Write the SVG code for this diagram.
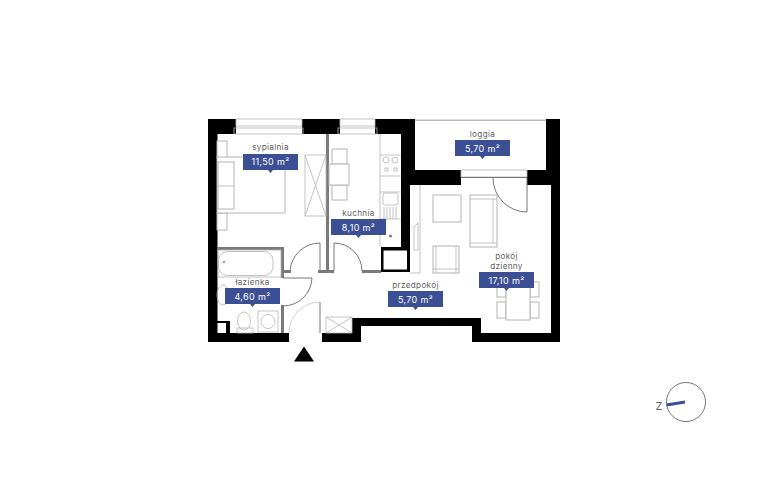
<svg xmlns="http://www.w3.org/2000/svg" width="768" height="480" viewBox="0 0 768 480">
<style>
text{font-family:Inter,"Open Sans","Liberation Sans",sans-serif;text-anchor:middle}
.n{font-size:8.2px;fill:#5f5f5f;letter-spacing:.3px}
.a{font-size:9px;fill:#fff;letter-spacing:.35px}
.l{fill:#3d4f94}
.w{fill:#000}
.g{fill:#7a7a7a}
.f{fill:#fff;stroke:#b4b4b4;stroke-width:1}
.t{fill:none;stroke:#b4b4b4;stroke-width:.8}
.d{fill:none;stroke:#777;stroke-width:1}
.e{fill:none;stroke:#bbb;stroke-width:.7}
</style>
<rect width="768" height="480" fill="#fff"/>
<g id="walls">
<path class="w" d="M208 119H236V134H217.500V333H289V342H208ZM302 119H340V134H302ZM375 119H415V170H461V185H410V272H381V247H401V134H375ZM527 170H546V119H560V342H472V326H361V342H322V333H352V318H481V333H551V185H527ZM217.500 321H230V333H217.500Z"/>
<rect x="383.500" y="250.500" width="23.500" height="19" fill="#fff"/>
<rect x="217.500" y="323" width="8.500" height="10" fill="#fff"/>
<path class="g" d="M326 134H329V271H326ZM217 247H284V250H217ZM281 250H284V278H281ZM281 305H284V333H281ZM284 270H291V273H284ZM318 270H331V273H318ZM331 270H334V273H331ZM362 270H381V273H362Z"/>
<rect x="415" y="119.500" width="131" height="1.500" fill="#bbb"/>
</g>
<g id="windows">
<rect class="t" x="236" y="119" width="66" height="7"/><rect class="t" x="234" y="128" width="69" height="6"/>
<rect class="t" x="340" y="119" width="35" height="7"/><rect class="t" x="338" y="128" width="39" height="6"/>
<rect class="t" x="461" y="170" width="66" height="7"/>
<path class="d" d="M461 177.500H527"/>
</g>
<g id="doors">
<path class="d" d="M283 278H312A29 29 0 0 1 283 306"/>
<path class="d" d="M320 271V243A30 30 0 0 0 290 271"/>
<path class="d" d="M334 271V243A28 28 0 0 1 362 271"/>
<path class="e" d="M320 302A31 31 0 0 0 289 333"/>
<rect x="319" y="302" width="2" height="31" fill="#bbb"/>
<path class="d" d="M527 178V212A34 34 0 0 1 493 178"/>
</g>
<g id="furniture">
<rect class="f" x="217" y="141" width="10" height="17"/><rect class="f" x="217" y="213" width="10" height="17"/>
<rect class="f" x="217" y="157" width="68" height="56"/>
<rect class="f" x="218" y="162" width="16" height="47"/><path class="t" d="M218 186H234"/>
<path class="t" d="M305 155H326V216H305ZM305 155L326 216M326 155L305 216"/>
<rect class="f" x="332" y="149" width="15" height="15"/><rect class="f" x="332" y="185" width="15" height="15"/><rect class="f" x="329" y="164" width="20" height="21"/>
<path class="t" d="M380 134V247M380 155H401M380 176H401M380 192H401M380 219H401"/>
<circle class="t" cx="386" cy="160" r="3"/><circle class="t" cx="395" cy="160" r="3"/><rect class="t" x="385" y="168" width="3" height="3"/><rect class="t" x="394" y="168" width="3" height="3"/>
<rect class="t" x="383" y="193" width="15" height="12" rx="2"/><path class="t" d="M384 207V219M387 207V219M390 207V219M393 207V219M396 207V219"/>
<circle cx="390.500" cy="236" r="1.500" fill="#777"/>
<path class="t" d="M420 185V273H410"/><path class="t" d="M414 250V227L418 223V250Z"/>
<rect class="f" x="433" y="195" width="28" height="27"/>
<rect class="f" x="470" y="195" width="27" height="52"/><path class="t" d="M470 199H497M470 243H497M493 199V243"/>
<rect class="f" x="433" y="246" width="26" height="27"/><path class="t" d="M436 246V273M456 246V273M433 269H459"/>
<rect class="f" x="497" y="282" width="9" height="15"/><rect class="f" x="497" y="302" width="9" height="16"/><rect class="f" x="530" y="282" width="9" height="15"/><rect class="f" x="530" y="302" width="9" height="16"/>
<rect class="f" x="506" y="285" width="24" height="35"/>
<rect class="t" x="218" y="250" width="63" height="27"/>
<rect class="t" x="218.500" y="251.500" width="54.500" height="24" rx="9"/><circle cx="224" cy="262" r="1" fill="#777"/>
<ellipse class="t" cx="223" cy="295" rx="6" ry="10"/>
<ellipse class="t" cx="244" cy="321" rx="6.500" ry="9"/><rect class="t" x="237" y="328" width="16" height="5"/>
<rect class="t" x="258" y="311" width="20" height="21"/><circle class="t" cx="268" cy="321.500" r="7"/>
<path class="t" d="M326 317H352V333H326ZM326 317L352 333M352 317L326 333"/>
</g>
<g id="sypialnia"><text class="n" x="270.500" y="150">sypialnia</text><path class="l" d="M243 154H298V170H273L270.500 173L268 170H243Z"/><text class="a" x="270.500" y="165">11,50 m²</text></g>
<g id="kuchnia"><text class="n" x="358.500" y="216">kuchnia</text><path class="l" d="M331 219H386V235H361L358.500 238L356 235H331Z"/><text class="a" x="358.500" y="230.500">8,10 m²</text></g>
<g id="lazienka"><text class="n" x="252.500" y="285">łazienka</text><path class="l" d="M225 288H280V304H255L252.500 307L250 304H225Z"/><text class="a" x="252.500" y="299.500">4,60 m²</text></g>
<g id="loggia"><text class="n" x="482.500" y="137">loggia</text><path class="l" d="M455 140H510V156H485L482.500 159L480 156H455Z"/><text class="a" x="482.500" y="151.500">5,70 m²</text></g>
<g id="pokoj"><text class="n" x="506.500" y="259">pokój</text><text class="n" x="506.500" y="269">dzienny</text><path class="l" d="M479 272H534V288H509L506.500 291L504 288H479Z"/><text class="a" x="506.500" y="283.500">17,10 m²</text></g>
<g id="przedpokoj"><text class="n" x="415.500" y="288">przedpokój</text><path class="l" d="M388 291H443V307H418L415.500 310L413 307H388Z"/><text class="a" x="415.500" y="302.500">5,70 m²</text></g>
<g id="entrance"><path d="M304 346.500L314 361.500H294Z" fill="#000"/></g>
<g id="compass"><circle cx="686" cy="402" r="19.500" fill="#fff" stroke="#777" stroke-width="1"/><path d="M666.500 405L685 402" stroke="#3d4f94" stroke-width="3"/><text x="659" y="410" font-size="11" fill="#666">Z</text></g>
</svg>
